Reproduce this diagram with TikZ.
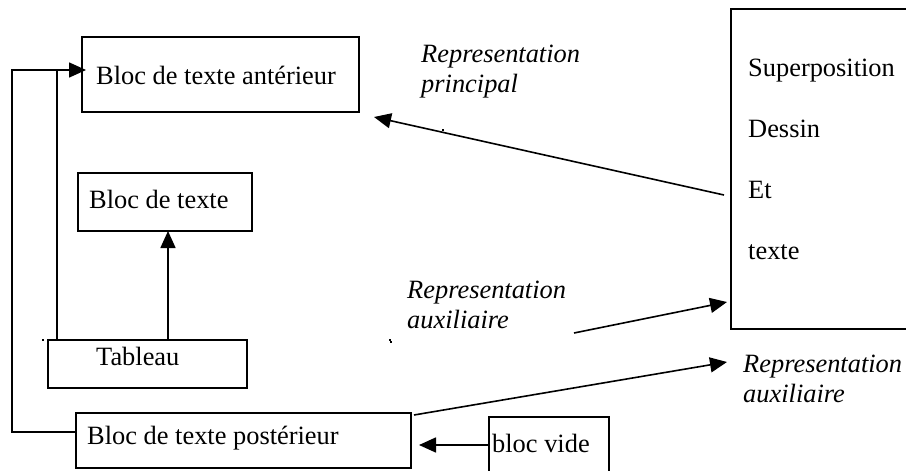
\documentclass[tikz,border=0pt]{standalone}
\usepackage{fontspec}
\setmainfont{Liberation Serif}
\usetikzlibrary{arrows.meta}
\begin{document}
\begin{tikzpicture}[x=1pt,y=-1pt,
  box/.style={draw, line width=1.6pt, inner sep=0pt, outer sep=0pt, anchor=north west},
  lbl/.style={inner sep=0pt, anchor=base west, font=\fontsize{26.4}{30}\selectfont},
  ilbl/.style={lbl, font=\fontsize{26.4}{30}\selectfont\itshape},
  conn/.style={line width=1.6pt},
  arr/.style={conn, -{Triangle[length=17pt,width=15pt]}},
  dotmark/.style={fill, inner sep=0pt, minimum size=2pt}]
\useasboundingbox (0,0) rectangle (906,471);
\clip (0,0) rectangle (906,471);
\fill[white] (0,0) rectangle (906,471);
% boxes
\node[box, minimum width=277pt, minimum height=75pt] (ant) at (82,37) {};
\node[box, minimum width=174pt, minimum height=58pt] (bloc) at (78,173) {};
\node[box, minimum width=199pt, minimum height=48pt] (tab) at (48,340) {};
\node[box, minimum width=335pt, minimum height=55pt] (post) at (76,413) {};
\node[box, minimum width=120pt, minimum height=70pt] (vide) at (489,417) {};
\node[box, minimum width=200pt, minimum height=320pt] (sup) at (731,9) {};
% texts
\node[lbl] (tant) at (96,84) {Bloc de texte antérieur};
\node[lbl] (tbloc) at (89,208) {Bloc de texte};
\node[lbl] (ttab) at (96,365) {Tableau};
\node[lbl] (tpost) at (87,444) {Bloc de texte postérieur};
\node[lbl] (tvide) at (492,452) {bloc vide};
\node[lbl] (s1) at (748,76) {Superposition};
\node[lbl] (s2) at (748,137) {Dessin};
\node[lbl] (s3) at (748,198) {Et};
\node[lbl] (s4) at (748,259) {texte};
\node[ilbl] (rp1) at (421,62) {Representation};
\node[ilbl] (rp2) at (421,92) {principal};
\node[ilbl] (ra1) at (407,298) {Representation};
\node[ilbl] (ra2) at (407,328) {auxiliaire};
\node[ilbl] (rb1) at (743,372) {Representation};
\node[ilbl] (rb2) at (743,402) {auxiliaire};
% connectors
\coordinate (pl) at (post.west |- 0,432);
\coordinate (c1) at (12,432);
\coordinate (c2) at (12,70);
\coordinate (c3) at (57,70);
\coordinate (al) at (86,70);
\draw[arr] (pl) -- (c1) -- (c2) -- (al);
\coordinate (tt) at (57,340);
\draw[conn] (tt) -- (c3);
\coordinate (tb) at (168,340);
\coordinate (bb) at (168,231);
\draw[arr] (tb) -- (bb);
\coordinate (p0) at (724,195);
\coordinate (p1) at (374,117);
\draw[arr] (p0) -- (p1);
\coordinate (q0) at (574,333);
\coordinate (q1) at (727,302);
\draw[arr] (q0) -- (q1);
\coordinate (r0) at (414,415);
\coordinate (r1) at (727,362);
\draw[arr] (r0) -- (r1);
\coordinate (v0) at (489,445);
\coordinate (v1) at (419,445);
\draw[arr] (v0) -- (v1);
% stray dots
\node[dotmark] (d1) at (443,130) {};
\node[dotmark] (d2) at (391,342) {};
\node[dotmark] (d3) at (43,340) {};
\node[dotmark] (d4) at (390,340) {};
\end{tikzpicture}
\end{document}
